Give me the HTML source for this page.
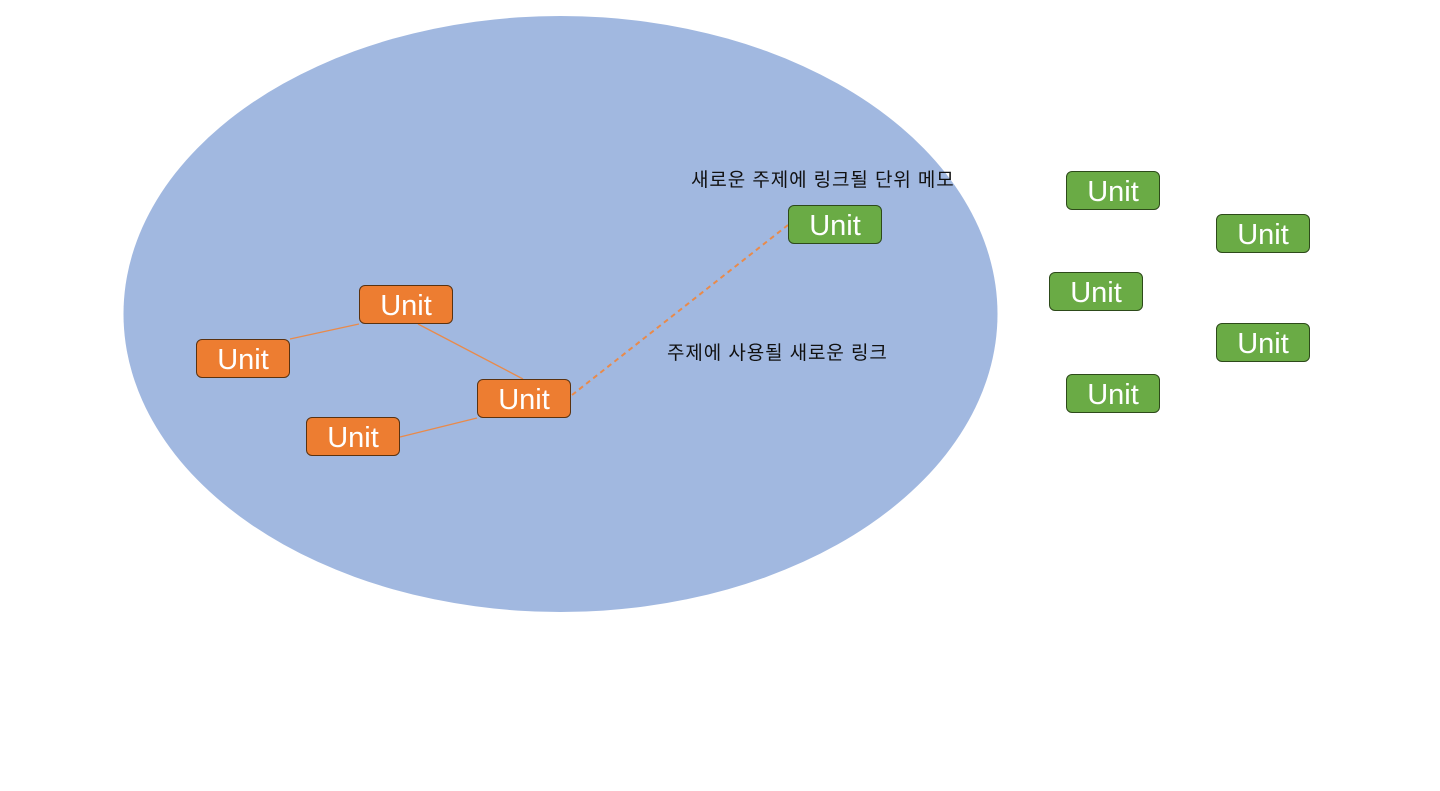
<!DOCTYPE html>
<html><head><meta charset="utf-8"><style>
body{margin:0;width:1440px;height:791px;background:#fff;overflow:hidden;position:relative;font-family:"Liberation Sans","Noto Sans CJK KR",sans-serif}
.b{position:absolute;width:92px;height:37px;border-radius:6px;color:#fff;font-size:29px;line-height:40px;text-align:center;box-sizing:content-box;overflow:hidden}
.o{background:#ED7D31;border:1.5px solid #5a3210}
.g{background:#6AAB45;border:1.5px solid #2d4a1a}
.t{position:absolute;font-size:19px;color:#111;white-space:nowrap;letter-spacing:0.9px}
</style></head><body>
<svg width="1440" height="791" style="position:absolute;left:0;top:0">
<ellipse cx="560.5" cy="314" rx="437" ry="298" fill="#A1B8E0"/>
<g stroke="#E98A4A" stroke-width="1.3">
<line x1="290" y1="339" x2="359" y2="324"/>
<line x1="418" y1="324" x2="523" y2="379"/>
<line x1="400" y1="437" x2="477" y2="418"/>
<line x1="572" y1="395" x2="788" y2="225" stroke-dasharray="5,4" stroke-width="2"/>
</g></svg>
<div class="b o" style="left:359px;top:285px">Unit</div>
<div class="b o" style="left:196px;top:339px">Unit</div>
<div class="b o" style="left:477px;top:379px">Unit</div>
<div class="b o" style="left:306px;top:417px">Unit</div>
<div class="b g" style="left:788px;top:205px">Unit</div>
<div class="b g" style="left:1066px;top:171px">Unit</div>
<div class="b g" style="left:1216px;top:214px">Unit</div>
<div class="b g" style="left:1049px;top:272px">Unit</div>
<div class="b g" style="left:1216px;top:323px">Unit</div>
<div class="b g" style="left:1066px;top:374px">Unit</div>
<div class="t" style="left:691px;top:165px">새로운 주제에 링크될 단위 메모</div>
<div class="t" style="left:667px;top:338px">주제에 사용될 새로운 링크</div>
</body></html>
